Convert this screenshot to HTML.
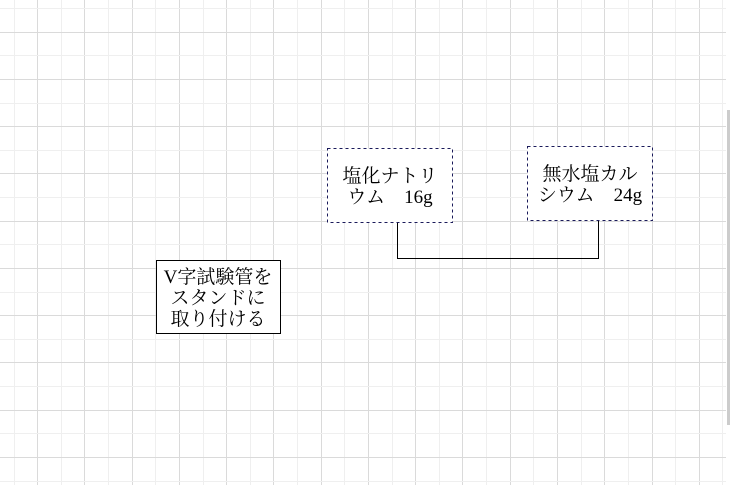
<!DOCTYPE html>
<html><head><meta charset="utf-8"><style>
html,body{margin:0;padding:0;background:#fff;width:731px;height:485px;overflow:hidden}
svg{display:block}
text{font-family:"Liberation Serif","Noto Serif CJK SC","IPAGothic",serif;font-size:19px;fill:#000}
</style></head><body>
<svg width="731" height="485" xmlns="http://www.w3.org/2000/svg">
<g id="grid" stroke-width="1" shape-rendering="crispEdges"></g>
<rect x="727" y="110" width="3" height="315" fill="#ccc"/>
<polyline points="397.5,223 397.5,258.5 598.5,258.5 598.5,221" fill="none" stroke="#000" stroke-width="1" shape-rendering="crispEdges"/>
<rect x="327.5" y="148.5" width="125" height="74" fill="#fff" stroke="#1a1a5a" stroke-dasharray="3,3" shape-rendering="crispEdges"/>
<rect x="527.5" y="146.5" width="125" height="74" fill="#fff" stroke="#1a1a5a" stroke-dasharray="3,3" shape-rendering="crispEdges"/>
<rect x="156.5" y="260.5" width="124" height="73" fill="#fff" stroke="#000" shape-rendering="crispEdges"/>
<text x="390" y="182" text-anchor="middle">塩化ナトリ</text>
<text x="390" y="203" text-anchor="middle">ウム　16g</text>
<text x="590" y="180" text-anchor="middle">無水塩カル</text>
<text x="590" y="201" text-anchor="middle">シウム　24g</text>
<text x="218" y="283" text-anchor="middle">V字試験管を</text>
<text x="218" y="304" text-anchor="middle">スタンドに</text>
<text x="218" y="325" text-anchor="middle">取り付ける</text>
</svg>
<script>
var g=document.getElementById('grid'),s='';
for(var i=0;i<32;i++){var x=Math.round(13.5+23.63*i)+0.5;if(x>727)break;
s+='<line x1="'+x+'" y1="0" x2="'+x+'" y2="485" stroke="'+(i%2?'#dadada':'#efefef')+'"/>';}
for(var j=0;j<22;j++){var y=Math.round(8+23.63*j)+0.5;if(y>485)break;
s+='<line x1="0" y1="'+y+'" x2="726" y2="'+y+'" stroke="'+(j%2?'#dadada':'#efefef')+'"/>';}
g.innerHTML=s;
</script>
</body></html>
